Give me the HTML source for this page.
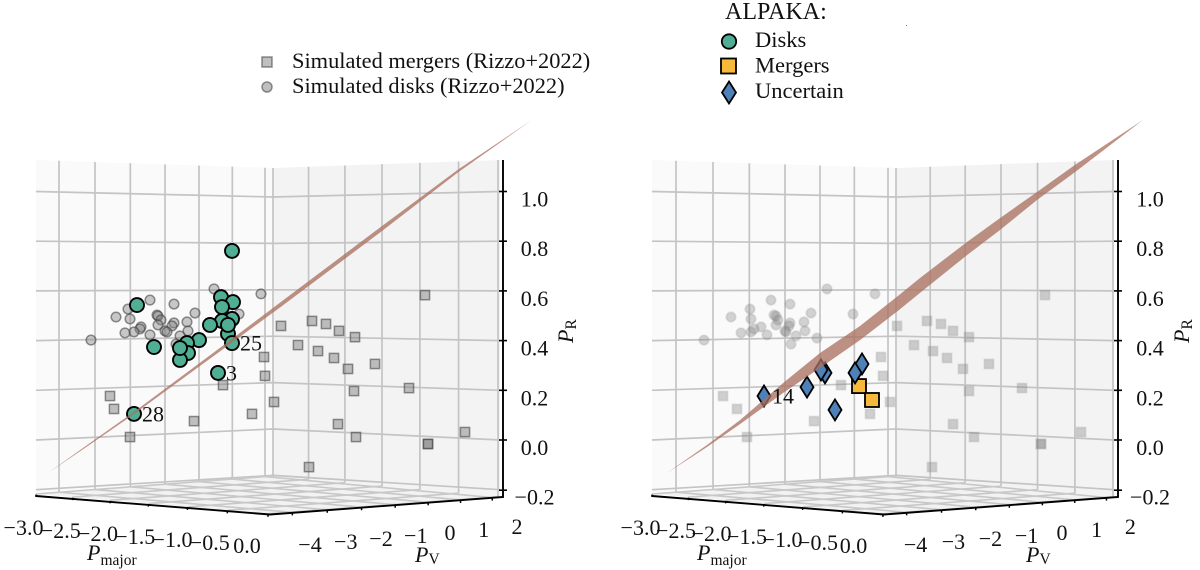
<!DOCTYPE html>
<html lang="en">
<head>
<meta charset="utf-8">
<title>ALPAKA kinemetry planes</title>
<style>
html,body{margin:0;padding:0;background:#fff;}
svg{display:block;}
text{font-family:"Liberation Serif",serif;fill:#111;}
</style>
</head>
<body>
<svg id="chart" xmlns="http://www.w3.org/2000/svg" width="1200" height="570" viewBox="0 0 1200 570">
  <g id="panels"></g>
  <g>
    <rect x="262" y="57" width="10" height="10" fill="rgba(128,128,128,.5)" stroke="rgba(70,70,70,.6)" stroke-width="1.5"/>
    <text x="292" y="68" font-size="22.4">Simulated mergers (Rizzo+2022)</text>
    <circle cx="267" cy="87" r="5" fill="rgba(128,128,128,.5)" stroke="rgba(70,70,70,.6)" stroke-width="1.5"/>
    <text x="292" y="93" font-size="22.4">Simulated disks (Rizzo+2022)</text>
  </g>
  <g>
    <text x="725" y="19" font-size="24">ALPAKA:</text>
    <circle cx="729" cy="41.5" r="7.2" fill="#4fae93" stroke="#000" stroke-width="1.8"/>
    <text x="755" y="47" font-size="22.5">Disks</text>
    <rect x="721" y="58.5" width="15" height="15" fill="#f7b93a" stroke="#000" stroke-width="1.8"/>
    <text x="755" y="72.5" font-size="22.5">Mergers</text>
    <polygon points="729,81.5 736,92.5 729,103.5 722,92.5" fill="#4f81b9" stroke="#000" stroke-width="1.8"/>
    <text x="755" y="98" font-size="22.5">Uncertain</text>
  </g>
  <rect x="906" y="25" width="1" height="1" fill="#777"/>
</svg>
<script>
// Tick labels
const prTicks = [-0.2, 0.0, 0.2, 0.4, 0.6, 0.8, 1.0];
const pMajorTicks = [-3.0, -2.5, -2.0, -1.5, -1.0, -0.5, 0.0];
const pVTicks = [-4, -3, -2, -1, 0, 1, 2];

// Simulated mergers: PR value, and horizontal view coordinate as read in each projected panel
const simMergersPR = [.583,.479,.467,.459,.439,.414,.382,.358,.330,.286,.306,.209,.197,.064,.012,-.109,-.016,-.016,.032,.334,.258,.153,.105,.221,.076,.177,.125,.012];
const simMergersViewLeft = [77.8,55.2,58,49,60.6,63.8,52.4,56.4,59.6,62.4,67.8,74.6,63.6,60.4,64,54.6,78.4,78.4,85.8,45.6,45.8,47.6,43.2,37.4,31.6,14.8,15.6,18.8];
const simMergersViewRight = [78.6,55,57.8,49,60.2,63.4,52.4,56.2,59,62.2,67.4,74,63.4,60.2,64.4,56,77.8,77.8,85.8,45.8,46.2,47.6,43.6,37.8,32.4,14.2,17,19];

// Simulated disks
const simDisksPR = [.608,.588,.563,.547,.527,.511,.507,.495,.487,.503,.499,.483,.463,.471,.459,.475,.439,.455,.447,.435,.431,.423,.439,.435,.419,.410,.402,.386];
const simDisksViewLeft = [35.6,45,22.8,27.6,18.4,31.8,40.6,16,18.8,24.2,24.4,25,24.4,27.6,27.2,30.2,30.4,21,20.8,19.6,17.8,22.8,25.8,26.2,28.8,32.8,11,28];
const simDisksViewRight = [35,44.6,23.8,27.6,19.6,31.8,40.2,15.8,19.8,24.4,24.8,25.2,24.8,27.6,27.4,30.4,30.6,21.8,20.4,19.8,17.8,23,26.6,26.8,28.8,33,10.4,27.8];

// ALPAKA disks (left panel)
const alpakaDisksView = [39.2,20.2,37,39.4,37.2,39.2,37.2,38.4,38.4,34.8,32.6,30.2,30.4,28.8,28.8,23.6,39.2,36.4,19.6];
const alpakaDisksPR = [.761,.543,.575,.555,.535,.487,.479,.427,.463,.463,.402,.390,.350,.322,.370,.374,.390,.270,.105];
const alpakaDisksIds = ['','','','','','','','','','','','','','','','','25','3','28'];

// ALPAKA mergers and uncertain (right panel)
const alpakaMergersView = [41.4,44];
const alpakaMergersPR = [.217,.161];
const alpakaUncertainView = [22.4,31,34.6,33.8,36.6,42,40.6];
const alpakaUncertainPR = [.177,.213,.270,.282,.121,.306,.270];
const alpakaUncertainIds = ['14','','','','','',''];

// Best-fit plane seen in each panel: view coordinate, upper PR edge, lower PR edge
const planeLeftView = [2.4,10.8,19.6,39.4,48.8,68.8,84.4,99.2];
const planeLeftUpper = [-.133,-.012,.113,.410,.553,.855,1.088,1.288];
const planeLeftLower = [-.133,-.018,.104,.395,.533,.835,1.077,1.288];
const planeRightView = [3,11,17.6,26.2,33.6,41.6,49.4,53.6,63,69.6,77,84.6,98.2];
const planeRightUpper = [-.133,-.020,.080,.229,.350,.459,.583,.652,.797,.893,.998,1.107,1.288];
const planeRightLower = [-.133,-.028,.064,.189,.290,.402,.523,.592,.744,.845,.966,1.078,1.288];

const NS = 'http://www.w3.org/2000/svg';
const root = document.getElementById('panels');
function mk(tag, parent, geom) {
  const el = document.createElementNS(NS, tag);
  for (const k in geom) el.setAttribute(k, geom[k]);
  parent.appendChild(el);
  return el;
}
function fmt(v, d) { return v.toFixed(d).replace('-', '\u2212'); }

// Axis functions
const yPR = pr => 440 - 248.5 * pr;
const yCorner = pr => 429 - 232 * pr;

const layouts = [
  { id:'left', ox:36, corner:273, wallEnd:500, axisX:503, frontX:270, lwC:265, lwA:64.67, rwA:35.17,
    tickCx:534.5, prTitleX:573,
    pmLabel:v=>247+74.5*v, pvLabel:v=>450+34*v-.25*v*v,
    pTitleX:87, vTitleX:415 },
  { id:'right', ox:652, corner:896, wallEnd:1114, axisX:1118, frontX:884, lwC:888, lwA:66.67, rwA:33.83,
    tickCx:1150, prTitleX:1189,
    pmLabel:v=>853.5+71*v, pvLabel:v=>1062+35*v-.4*v*v,
    pTitleX:697, vTitleX:1026 }
];

function drawFrame(g, L) {
  const viewLeftWallX = v => { const q=(v-2)/2; return L.lwC + L.lwA*q - 1.33*q*q; };
  const viewRightWallX = v => { const t=(v+3)*2; return L.corner + L.rwA*t + .389*t*t; };
  const topY = x => x<=L.corner ? 160+8*(x-L.ox)/(L.corner-L.ox) : 168-8*(x-L.corner)/(L.wallEnd-L.corner);
  const botY = x => x<=L.corner ? 494-18*(x-L.ox)/(L.corner-L.ox) : 476+21*(x-L.corner)/(L.wallEnd-L.corner);
  const A = {x:L.ox,y:494}, B = {x:L.corner,y:476}, C = {x:L.wallEnd,y:497}, F = {x:L.frontX,y:514};
  const lerp = (p,q,t) => ({x:p.x+(q.x-p.x)*t, y:p.y+(q.y-p.y)*t});

  const wl = mk('polygon', g, {points:`${A.x},160 ${B.x},168 ${B.x},${B.y} ${A.x},${A.y}`, fill:'#fafafa'});
  
  
  const wr = mk('polygon', g, {points:`${B.x},168 ${C.x},160 ${C.x},${C.y} ${B.x},${B.y}`, fill:'#f3f3f3'});
  
  
  const fl = mk('polygon', g, {points:`${A.x},${A.y} ${B.x},${B.y} ${C.x},${C.y} ${F.x},${F.y}`, fill:'#f2f2f2'});
  
  

  const gridStyle = {stroke:'#c4c4c4','stroke-width':1.7,fill:'none'};
  prTicks.forEach(pr => {
    const a = mk('polyline', g, Object.assign({points:`${L.ox},${yPR(pr)} ${L.corner},${yCorner(pr)} ${L.wallEnd},${yPR(pr)}`}, gridStyle));
    
    
  });
  pVTicks.forEach(v => {
    const x = viewLeftWallX(v);
    const a = mk('line', g, Object.assign({x1:x,y1:topY(x),x2:x,y2:botY(x)}, gridStyle));
    
    
    const u = (x-L.ox)/(L.corner-L.ox);
    const p = lerp(A,B,u), q = lerp(F,C,u);
    const b = mk('line', g, {x1:p.x,y1:p.y,x2:q.x,y2:q.y,stroke:'#c8c8c8','stroke-width':1.6});
    
    
    const t = mk('line', g, {x1:q.x,y1:q.y+.5,x2:q.x,y2:q.y+3,stroke:'#000','stroke-width':1.5});
    
    
    const s = mk('text', g, {x:L.pvLabel(v),y:540-3*v,'font-size':22,'text-anchor':'middle'});
    
    
    s.textContent = fmt(v,0);
  });
  pMajorTicks.forEach(v => {
    const x = viewRightWallX(v);
    const a = mk('line', g, Object.assign({x1:x,y1:topY(x),x2:x,y2:botY(x)}, gridStyle));
    
    
    const w = (x-L.corner)/(L.wallEnd-L.corner);
    const p = lerp(B,C,w), q = lerp(A,F,w);
    const b = mk('line', g, {x1:p.x,y1:p.y,x2:q.x,y2:q.y,stroke:'#c8c8c8','stroke-width':1.6});
    
    
    const t = mk('line', g, {x1:q.x,y1:q.y+.5,x2:q.x,y2:q.y+3,stroke:'#000','stroke-width':1.5});
    
    
    const s = mk('text', g, {x:L.pmLabel(v),y:553+6*v,'font-size':22,'text-anchor':'middle'});
    
    
    s.textContent = fmt(v,1);
  });

  const ax = mk('polyline', g, {points:`${L.ox},496 ${F.x},${F.y+.5} ${L.axisX},497 ${L.axisX},160`, fill:'none', stroke:'#000', 'stroke-width':1.9});
  
  
  prTicks.forEach(pr => {
    const t = mk('line', g, {x1:L.axisX-4,y1:yPR(pr)+(pr<0?.5:0),x2:L.axisX+4,y2:yPR(pr)+(pr<0?.5:0),stroke:'#000','stroke-width':1.6});
    
    
    const s = mk('text', g, {x:L.tickCx,y:yPR(pr)+15,'font-size':22,'text-anchor':'middle'});
    
    
    s.textContent = fmt(pr,1);
  });

  // Axis titles
  const pm = mk('text', g, {x:L.pTitleX,y:560,'font-size':22});
  
  
  pm.innerHTML = '<tspan font-style="italic">P</tspan><tspan font-size="15.5" dy="5">major</tspan>';
  const pv = mk('text', g, {x:L.vTitleX,y:562,'font-size':22});
  
  
  pv.innerHTML = '<tspan font-style="italic">P</tspan><tspan font-size="15.5" dy="2">V</tspan>';
  const pr = mk('text', g, {x:L.prTitleX,y:343,'font-size':22,transform:`rotate(-90 ${L.prTitleX} 343)`});
  
  
  pr.innerHTML = '<tspan font-style="italic">P</tspan><tspan font-size="15.5" dy="3">R</tspan>';
}

function drawPlane(g, L, views, upper, lower) {
  const xView = h => L.ox + 5*h;
  const pts = [];
  views.forEach((h,i) => pts.push(xView(h)+','+yPR(upper[i])));
  for (let i=views.length-1;i>=0;i--) pts.push(xView(views[i])+','+yPR(lower[i]));
  const p = mk('polygon', g, {points:pts.join(' '), fill:'rgba(170,110,95,.76)'});
  
  
}

function drawIdLabel(g, x, y, id) {
  if (!id) return;
  const t = mk('text', g, {x:x+8,y:y+7.5,'font-size':22});
  
  
  t.textContent = id;
}

// Left panel
{
  const L = layouts[0];
  const g = mk('g', root, {});
  
  
  drawFrame(g, L);
  const xView = h => L.ox + 5*h;
  simMergersPR.forEach((pr,i) => {
    const x = xView(simMergersViewLeft[i]), y = yPR(pr);
    const m = mk('rect', g, {x:x-4.6,y:y-4.6,width:9.2,height:9.2,fill:'rgba(128,128,128,.48)',stroke:'rgba(70,70,70,.6)','stroke-width':1.5});
    
    
  });
  simDisksPR.forEach((pr,i) => {
    const m = mk('circle', g, {cx:xView(simDisksViewLeft[i]),cy:yPR(pr),r:4.8,fill:'rgba(128,128,128,.42)',stroke:'rgba(70,70,70,.6)','stroke-width':1.5});
    
    
  });
  alpakaDisksPR.forEach((pr,i) => {
    const m = mk('circle', g, {cx:xView(alpakaDisksView[i]),cy:yPR(pr),r:7,fill:'#4fae93',stroke:'#000','stroke-width':1.9});
    
    
  });
  drawPlane(g, L, planeLeftView, planeLeftUpper, planeLeftLower);
  alpakaDisksPR.forEach((pr,i) => drawIdLabel(g, xView(alpakaDisksView[i]), yPR(pr), alpakaDisksIds[i]));
}

// Right panel
{
  const L = layouts[1];
  const g = mk('g', root, {});
  
  
  drawFrame(g, L);
  const xView = h => L.ox + 5*h;
  simMergersPR.forEach((pr,i) => {
    const x = xView(simMergersViewRight[i]), y = yPR(pr);
    const m = mk('rect', g, {x:x-4.6,y:y-4.6,width:9.2,height:9.2,fill:'rgba(130,130,130,.36)',stroke:'rgba(130,130,130,.18)','stroke-width':1.8});
    
    
  });
  simDisksPR.forEach((pr,i) => {
    const m = mk('circle', g, {cx:xView(simDisksViewRight[i]),cy:yPR(pr),r:4.8,fill:'rgba(130,130,130,.34)',stroke:'rgba(130,130,130,.18)','stroke-width':1.8});
    
    
  });
  alpakaMergersPR.forEach((pr,i) => {
    const x = xView(alpakaMergersView[i]), y = yPR(pr);
    const m = mk('rect', g, {x:x-7,y:y-7,width:14,height:14,fill:'#f7b93a',stroke:'#000','stroke-width':1.8});
    
    
  });
  alpakaUncertainPR.forEach((pr,i) => {
    const x = xView(alpakaUncertainView[i]), y = yPR(pr);
    const m = mk('polygon', g, {points:`${x},${y-10.5} ${x+6.5},${y} ${x},${y+10.5} ${x-6.5},${y}`,fill:'#4f81b9',stroke:'#000','stroke-width':1.8});
    
    
  });
  drawPlane(g, L, planeRightView, planeRightUpper, planeRightLower);
  alpakaUncertainPR.forEach((pr,i) => drawIdLabel(g, xView(alpakaUncertainView[i]), yPR(pr), alpakaUncertainIds[i]));
}
</script>
</body>
</html>
